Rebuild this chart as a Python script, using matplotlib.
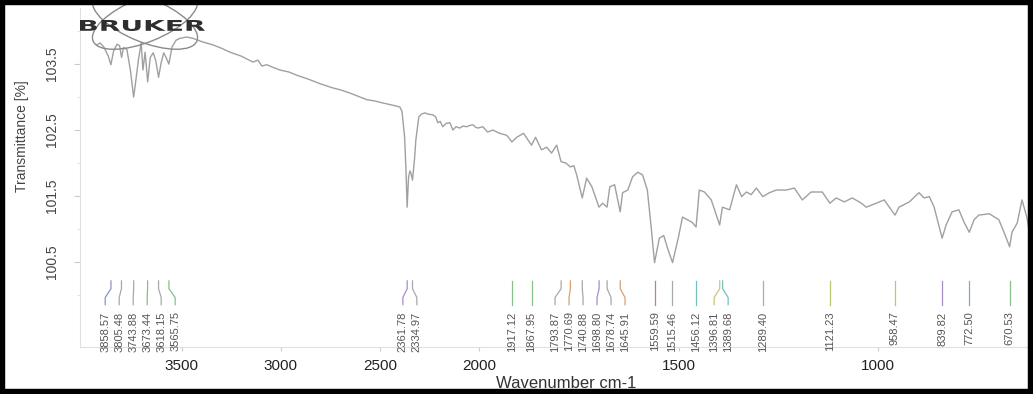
import numpy as np
import matplotlib
matplotlib.use('Agg')
import matplotlib.pyplot as plt
from matplotlib.patches import Ellipse, Rectangle, PathPatch
from matplotlib.textpath import TextPath
from matplotlib.font_manager import FontProperties
from matplotlib.transforms import Affine2D

# spectrum (cm-1, %T)
wavenumber = [3930, 3914, 3895, 3872, 3859, 3845, 3828, 3815, 3805, 3795, 3778, 3760, 3744, 3735,
              3720, 3706, 3697, 3686, 3673, 3660, 3645, 3632, 3618, 3605, 3592, 3580, 3566, 3550,
              3530, 3510, 3475, 3444, 3400, 3343, 3300, 3257, 3200, 3141, 3116, 3096, 3071, 3040,
              3005, 2960, 2919, 2860, 2800, 2740, 2700, 2651, 2600, 2566, 2525, 2485, 2440, 2399,
              2388, 2375, 2368, 2362, 2355, 2348, 2343, 2335, 2325, 2318, 2303, 2290, 2273, 2255,
              2232, 2218, 2207, 2195, 2182, 2165, 2146, 2131, 2115, 2096, 2080, 2061, 2045, 2030,
              2015, 2005, 1990, 1978, 1965, 1948, 1930, 1917, 1905, 1888, 1868, 1858, 1843, 1830,
              1818, 1805, 1794, 1782, 1771, 1762, 1755, 1741, 1730, 1717, 1699, 1690, 1679, 1672,
              1660, 1646, 1640, 1627, 1615, 1602, 1590, 1578, 1568, 1560, 1548, 1537, 1527, 1515,
              1500, 1490, 1478, 1466, 1456, 1448, 1435, 1418, 1397, 1390, 1372, 1355, 1342, 1330,
              1318, 1305, 1289, 1272, 1255, 1230, 1210, 1190, 1168, 1140, 1121, 1105, 1085, 1065,
              1042, 1030, 1005, 985, 958, 948, 922, 898, 885, 872, 860, 840, 830, 815,
              798, 785, 772, 760, 748, 722, 698, 685, 671, 665, 652, 640, 628, 618]
transmittance = [103.79, 103.82, 103.76, 103.62, 103.49, 103.70, 103.80, 103.78, 103.60, 103.75, 103.72, 103.40, 103.00, 103.20,
                 103.56, 103.82, 103.41, 103.68, 103.23, 103.60, 103.67, 103.55, 103.30, 103.52, 103.67, 103.60, 103.50, 103.76,
                 103.86, 103.89, 103.91, 103.89, 103.84, 103.79, 103.74, 103.68, 103.62, 103.53, 103.56, 103.47, 103.49, 103.45,
                 103.41, 103.38, 103.33, 103.27, 103.20, 103.14, 103.11, 103.06, 103.00, 102.96, 102.94, 102.91, 102.88, 102.85,
                 102.78, 102.40, 101.90, 101.33, 101.78, 101.88, 101.85, 101.74, 102.05, 102.35, 102.70, 102.74, 102.76, 102.74,
                 102.73, 102.70, 102.61, 102.63, 102.55, 102.60, 102.61, 102.50, 102.55, 102.53, 102.56, 102.55, 102.57, 102.58,
                 102.54, 102.53, 102.55, 102.47, 102.50, 102.45, 102.42, 102.32, 102.39, 102.45, 102.27, 102.39, 102.20, 102.24,
                 102.15, 102.27, 102.02, 102.00, 101.94, 101.96, 101.82, 101.47, 101.77, 101.64, 101.33, 101.39, 101.33, 101.64,
                 101.67, 101.26, 101.55, 101.59, 101.79, 101.86, 101.82, 101.59, 101.00, 100.49, 100.86, 100.90, 100.70, 100.49,
                 100.88, 101.18, 101.14, 101.10, 101.03, 101.59, 101.56, 101.44, 101.06, 101.33, 101.29, 101.67, 101.49, 101.56,
                 101.52, 101.62, 101.49, 101.55, 101.59, 101.59, 101.62, 101.44, 101.56, 101.56, 101.39, 101.47, 101.41, 101.47,
                 101.39, 101.33, 101.39, 101.44, 101.21, 101.33, 101.41, 101.55, 101.47, 101.49, 101.33, 100.86, 101.06, 101.26,
                 101.29, 101.10, 100.95, 101.14, 101.21, 101.23, 101.14, 100.95, 100.73, 100.95, 101.09, 101.44, 101.18, 100.82]

peak_positions = [3858.57, 3805.48, 3743.88, 3673.44, 3618.15, 3565.75, 2361.78, 2334.97,
                  1917.12, 1867.95, 1793.87, 1770.69, 1740.88, 1698.80, 1678.74, 1645.91,
                  1559.59, 1515.46, 1456.12, 1396.81, 1389.68, 1289.40, 1121.23, 958.47,
                  839.82, 772.50, 670.53]
peak_colors = ['#8a92c8', '#a8a8a8', '#a8a8a8', '#86c086', '#a8a8a8', '#86c086', '#a88cc8', '#a8a8a8',
               '#86c086', '#86c086', '#a8a8a8', '#d8a070', '#a8a8a8', '#a88cc8', '#a8a8a8', '#d8a070',
               '#c08080', '#a8a8a8', '#70c0c0', '#c8c870', '#70c0c0', '#a8b0a0', '#b8c870', '#b8c870',
               '#a88cc8', '#80a8c8', '#86c086']

x_ticks = [3500, 3000, 2500, 2000, 1500, 1000]
y_ticks = [100.5, 101.5, 102.5, 103.5]

narrow = ['Liberation Sans Narrow', 'Liberation Sans', 'DejaVu Sans']
sans = ['Liberation Sans', 'DejaVu Sans']

W, H = 1033, 394
fig = plt.figure(figsize=(W / 100, H / 100), dpi=100)
ax = fig.add_axes([80 / W, (H - 347) / H, 948 / W, 339 / H])


# OPUS style axis: range above 2000 cm-1 drawn at half scale
def fwd(w):
    w = np.asarray(w, dtype=float)
    return np.where(w > 2000, 2000 + (w - 2000) * 0.4955, w)


def inv(u):
    u = np.asarray(u, dtype=float)
    return np.where(u > 2000, 2000 + (u - 2000) / 0.4955, u)


ax.set_xscale('function', functions=(fwd, inv))
ax.plot(wavenumber, transmittance, color='#a0a0a0', lw=1.0)
ax.set_xlim(4015, 625)
ax.set_ylim(99.21, 104.35)

ax.set_xticks(x_ticks, labels=[str(t) for t in x_ticks], family=sans, fontsize=11, color='#222222')
ax.xaxis.set_minor_locator(plt.NullLocator())
ax.set_yticks(y_ticks, labels=[str(t) for t in y_ticks], family=narrow, fontsize=10,
              color='#444444', rotation=90, va='center')
ax.set_yticks([100, 101, 102, 103, 104], minor=True)
ax.tick_params(axis='x', length=3, color='#cccccc', pad=6)
ax.tick_params(axis='y', which='major', length=4, color='#cccccc', pad=11)
ax.tick_params(axis='y', which='minor', length=2, color='#dddddd')
for s in ['top', 'right']:
    ax.spines[s].set_visible(False)
for s in ['left', 'bottom']:
    ax.spines[s].set_color('#e0e0e0')
    ax.spines[s].set_linewidth(0.8)

ax.set_ylabel('Transmittance [%]', family=narrow, fontsize=10, color='#444444')
ax.yaxis.set_label_coords(-0.054, 0.622)
ax.set_xlabel('Wavenumber cm-1', family=sans, fontsize=12, color='#333333')
ax.xaxis.set_label_coords(0.513, -0.085)

# peak markers with spread labels
pk_disp = ax.transData.transform(np.column_stack([peak_positions, np.full(len(peak_positions), 101.0)]))[:, 0]
lab = pk_disp.copy()
gap = 14
for _ in range(300):
    for i in range(len(lab) - 1):
        d = lab[i + 1] - lab[i]
        if d < gap:
            s = (gap - d) / 2
            lab[i] -= s
            lab[i + 1] += s
lab_data = ax.transData.inverted().transform(np.column_stack([lab, np.full(len(lab), 101.0)]))[:, 0]
tr = ax.get_xaxis_transform()
for p, lx, c in zip(peak_positions, lab_data, peak_colors):
    ax.plot([p, p, lx, lx], [0.195, 0.172, 0.146, 0.125], transform=tr, color=c, lw=0.9, clip_on=False)
    ax.text(lx, 0.105, '%.2f' % p, rotation=90, ha='center', va='top', transform=tr,
            fontsize=8, color='#555555', family=narrow)

# logo and frame drawn in pixel space
ov = fig.add_axes([0, 0, 1, 1])
ov.set_xlim(0, W)
ov.set_ylim(H, 0)
ov.axis('off')
ov.patch.set_alpha(0)
ov.add_patch(Ellipse((145, 20), 112, 44, angle=22, fill=False, edgecolor='#8a8a8a', lw=1))
ov.add_patch(Ellipse((145, 20), 112, 44, angle=-22, fill=False, edgecolor='#8a8a8a', lw=1))
tp = TextPath((0, 0), 'BRUKER', size=20, prop=FontProperties(family='DejaVu Sans', weight='bold'))
ext = tp.get_extents()
sx = 125 / ext.width
sy = 11 / ext.height
logo_tf = Affine2D().translate(-ext.x0, -ext.y0).scale(sx, -sy).translate(80, 31)
ov.add_patch(PathPatch(logo_tf.transform_path(tp), facecolor='#2e2e2e', edgecolor='none'))
ov.add_patch(Rectangle((0, 0), W, H, fill=False, edgecolor='black', lw=7.5, clip_on=False))

plt.savefig('out.png', dpi=100)
